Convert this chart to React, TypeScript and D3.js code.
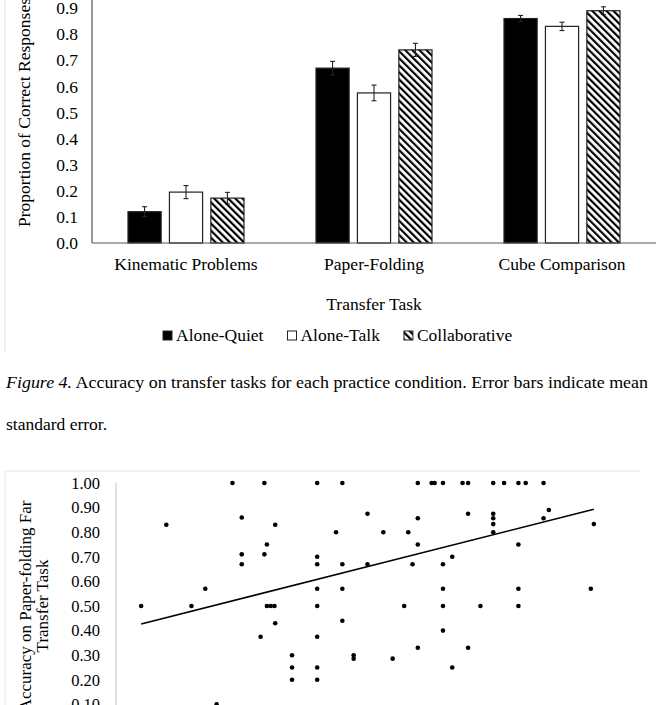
import React, { useEffect, useRef } from 'react';
import * as d3 from 'd3';

// Figure 4: accuracy on transfer tasks by practice condition
const tasks = ['Kinematic Problems', 'Paper-Folding', 'Cube Comparison'];
const conditions = ['Alone-Quiet', 'Alone-Talk', 'Collaborative'];
const aloneQuiet = [0.12, 0.67, 0.86];
const aloneQuietErr = [0.019, 0.026, 0.012];
const aloneTalk = [0.195, 0.575, 0.83];
const aloneTalkErr = [0.025, 0.03, 0.016];
const collaborative = [0.172, 0.74, 0.89];
const collaborativeErr = [0.022, 0.025, 0.015];
const barTicks = [0, 0.1, 0.2, 0.3, 0.4, 0.5, 0.6, 0.7, 0.8, 0.9, 1.0];

// scatter: paper-folding far transfer vs. practice score
const practiceScore = [
  1.0, 2.0, 3.0, 3.55, 4.0, 4.63, 5.0, 5.0, 5.0, 5.75, 5.9, 5.9, 6.0, 6.0, 6.15, 6.3,
  6.33, 6.33, 7.0, 7.0, 7.0, 8.0, 8.0, 8.0, 8.0, 8.0, 8.0, 8.0, 8.0, 8.75, 9.0, 9.0,
  9.0, 9.0, 9.45, 9.45, 10.0, 10.0, 10.63, 11.0, 11.46, 11.62, 11.79, 12.0, 12.0, 12.0,
  12.0, 12.55, 12.67, 13.0, 13.0, 13.0, 13.0, 13.0, 13.37, 13.37, 13.78, 14.0, 14.0, 14.0,
  14.49, 15.0, 15.0, 15.0, 15.0, 15.0, 15.43, 16.0, 16.0, 16.0, 16.0, 16.29, 17.0, 17.0,
  17.21, 18.88, 19.0,
];
const farTransfer = [
  0.5, 0.83, 0.5, 0.57, 0.1, 1.0, 0.86, 0.71, 0.67, 0.375, 1.0, 0.71, 0.75, 0.5, 0.5, 0.5,
  0.83, 0.43, 0.3, 0.25, 0.2, 1.0, 0.7, 0.67, 0.57, 0.5, 0.375, 0.25, 0.2, 0.8, 1.0, 0.67,
  0.57, 0.44, 0.3, 0.286, 0.875, 0.67, 0.8, 0.286, 0.5, 0.8, 0.67, 1.0, 0.857, 0.75,
  0.33, 1.0, 1.0, 1.0, 0.67, 0.57, 0.5, 0.4, 0.7, 0.25, 1.0, 1.0, 0.875, 0.33,
  0.5, 1.0, 0.875, 0.857, 0.833, 0.8, 1.0, 1.0, 0.75, 0.57, 0.5, 1.0, 1.0, 0.857,
  0.89, 0.57, 0.833,
];
const trendIntercept = 0.401;
const trendSlope = 0.0259;
const scatterTicks = [0, 0.1, 0.2, 0.3, 0.4, 0.5, 0.6, 0.7, 0.8, 0.9, 1.0];

const W = 657;
const H = 705;
const FONT = '"Liberation Serif", "Times New Roman", serif';

const App = () => {
  const ref = useRef<SVGSVGElement>(null);

  useEffect(() => {
    const svg = d3.select(ref.current);
    svg.selectAll('*').remove();
    svg.style('font-family', FONT);

    const defs = svg.append('defs');
    defs
      .append('pattern')
      .attr('id', 'hatch')
      .attr('patternUnits', 'userSpaceOnUse')
      .attr('width', 5)
      .attr('height', 5)
      .attr('patternTransform', 'rotate(-45)')
      .call((p) => {
        p.append('rect').attr('width', 5).attr('height', 5).attr('fill', '#fff');
        p.append('rect').attr('width', 2.2).attr('height', 5).attr('fill', '#000');
      });

    // ---------- bar chart ----------
    const fills = ['#000', '#fff', 'url(#hatch)'];
    const values = [aloneQuiet, aloneTalk, collaborative];
    const errors = [aloneQuietErr, aloneTalkErr, collaborativeErr];

    const x0 = d3.scaleBand().domain(tasks).range([92, 656]);
    const x1 = d3.scaleBand().domain(conditions).range([36, 152]).paddingInner(0.2);
    const y = d3.scaleLinear().domain([0, 1]).range([243, -18]);

    // frame edge of the figure
    svg.append('line').attr('x1', 5).attr('x2', 5).attr('y1', 0).attr('y2', 352)
      .attr('stroke', '#e3e3e3').attr('stroke-width', 1);

    const bars = svg.append('g');
    tasks.forEach((t, ti) => {
      conditions.forEach((c, ci) => {
        const v = values[ci][ti];
        const e = errors[ci][ti];
        const bx = x0(t)! + x1(c)!;
        const bw = x1.bandwidth();
        bars.append('rect')
          .attr('x', bx).attr('y', y(v))
          .attr('width', bw).attr('height', y(0) - y(v))
          .attr('fill', fills[ci])
          .attr('stroke', '#222').attr('stroke-width', 1.2);
        const cx = bx + bw / 2;
        const eb = bars.append('g').attr('stroke', '#222').attr('stroke-width', 1.1);
        eb.append('line').attr('x1', cx).attr('x2', cx).attr('y1', y(v - e)).attr('y2', y(v + e));
        eb.append('line').attr('x1', cx - 2.5).attr('x2', cx + 2.5).attr('y1', y(v + e)).attr('y2', y(v + e));
        eb.append('line').attr('x1', cx - 2.5).attr('x2', cx + 2.5).attr('y1', y(v - e)).attr('y2', y(v - e));
      });
    });

    // axes lines
    svg.append('line').attr('x1', 92).attr('x2', 92).attr('y1', y(1)).attr('y2', y(0))
      .attr('stroke', '#555').attr('stroke-width', 1.2);
    svg.append('line').attr('x1', 92).attr('x2', 656).attr('y1', y(0)).attr('y2', y(0))
      .attr('stroke', '#555').attr('stroke-width', 1.2);

    svg.append('g')
      .selectAll('text')
      .data(barTicks)
      .join('text')
      .attr('x', 78)
      .attr('y', (d) => y(d))
      .attr('dy', '0.35em')
      .attr('text-anchor', 'end')
      .style('font-size', '17.5px')
      .text((d) => d3.format('.1f')(d));

    svg.append('g')
      .selectAll('text')
      .data(tasks)
      .join('text')
      .attr('x', (d) => x0(d)! + x0.bandwidth() / 2)
      .attr('y', 270)
      .attr('text-anchor', 'middle')
      .style('font-size', '17.5px')
      .text((d) => d);

    svg.append('text')
      .attr('transform', `translate(30,${(y(0) + y(1)) / 2}) rotate(-90)`)
      .attr('text-anchor', 'middle')
      .style('font-size', '17.5px')
      .text('Proportion of Correct Responses');

    svg.append('text')
      .attr('x', x0.range()[0] + (x0.range()[1] - x0.range()[0]) / 2)
      .attr('y', 310)
      .attr('text-anchor', 'middle')
      .style('font-size', '17.5px')
      .text('Transfer Task');

    // legend, laid out left to right
    let lx = 163;
    conditions.forEach((c, ci) => {
      const g = svg.append('g').attr('transform', `translate(${lx},341)`);
      g.append('rect').attr('x', 0).attr('y', -10).attr('width', 9).attr('height', 9)
        .attr('fill', fills[ci]).attr('stroke', '#222').attr('stroke-width', 1);
      const t = g.append('text').attr('x', 13).attr('y', 0)
        .style('font-size', '17.5px').text(c);
      lx += 13 + (t.node() as SVGTextElement).getComputedTextLength() + 24;
    });

    // caption
    const cap = svg.append('text').attr('x', 6).attr('y', 388).style('font-size', '17.5px')
      .attr('textLength', 642).attr('lengthAdjust', 'spacingAndGlyphs');
    cap.append('tspan').style('font-style', 'italic').text('Figure 4.');
    cap.append('tspan').text(' Accuracy on transfer tasks for each practice condition. Error bars indicate mean');
    svg.append('text').attr('x', 6).attr('y', 430).style('font-size', '17.5px').text('standard error.');

    // ---------- scatter plot ----------
    const sx = d3.scaleLinear().domain([0, 20]).range([116, 619]);
    const sy = d3.scaleLinear().domain([0, 1]).range([729, 483]);

    svg.append('line').attr('x1', 5).attr('x2', 641).attr('y1', 471).attr('y2', 471)
      .attr('stroke', '#e6e6e6').attr('stroke-width', 1);
    svg.append('line').attr('x1', 5).attr('x2', 5).attr('y1', 471).attr('y2', H)
      .attr('stroke', '#e6e6e6').attr('stroke-width', 1);
    svg.append('line').attr('x1', 116).attr('x2', 116).attr('y1', sy(1)).attr('y2', sy(0))
      .attr('stroke', '#d9d9d9').attr('stroke-width', 1.5);

    svg.append('g')
      .selectAll('text')
      .data(scatterTicks)
      .join('text')
      .attr('x', 100)
      .attr('y', (d) => sy(d))
      .attr('dy', '0.35em')
      .attr('text-anchor', 'end')
      .style('font-size', '16.5px')
      .text((d) => d3.format('.2f')(d));

    const titleY = (sy(0) + sy(1)) / 2;
    svg.append('text')
      .attr('transform', `translate(31,${titleY}) rotate(-90)`)
      .attr('text-anchor', 'middle')
      .style('font-size', '17px')
      .text('Accuracy on Paper-folding Far');
    svg.append('text')
      .attr('transform', `translate(48,${titleY}) rotate(-90)`)
      .attr('text-anchor', 'middle')
      .style('font-size', '17px')
      .text('Transfer Task');

    const [xmin, xmax] = d3.extent(practiceScore) as [number, number];
    svg.append('path')
      .attr('d', d3.line()([
        [sx(xmin), sy(trendIntercept + trendSlope * xmin)],
        [sx(xmax), sy(trendIntercept + trendSlope * xmax)],
      ]))
      .attr('stroke', '#000').attr('stroke-width', 1.5).attr('fill', 'none');

    svg.append('g')
      .selectAll('circle')
      .data(practiceScore.map((p, i) => [p, farTransfer[i]]))
      .join('circle')
      .attr('cx', (d) => sx(d[0]))
      .attr('cy', (d) => sy(d[1]))
      .attr('r', 2.3)
      .attr('fill', '#000');
  }, []);

  return (
    <svg
      ref={ref}
      width={W}
      height={H}
      style={{ position: 'absolute', left: 0, top: 0, background: '#fff' }}
    />
  );
};

export default App;
